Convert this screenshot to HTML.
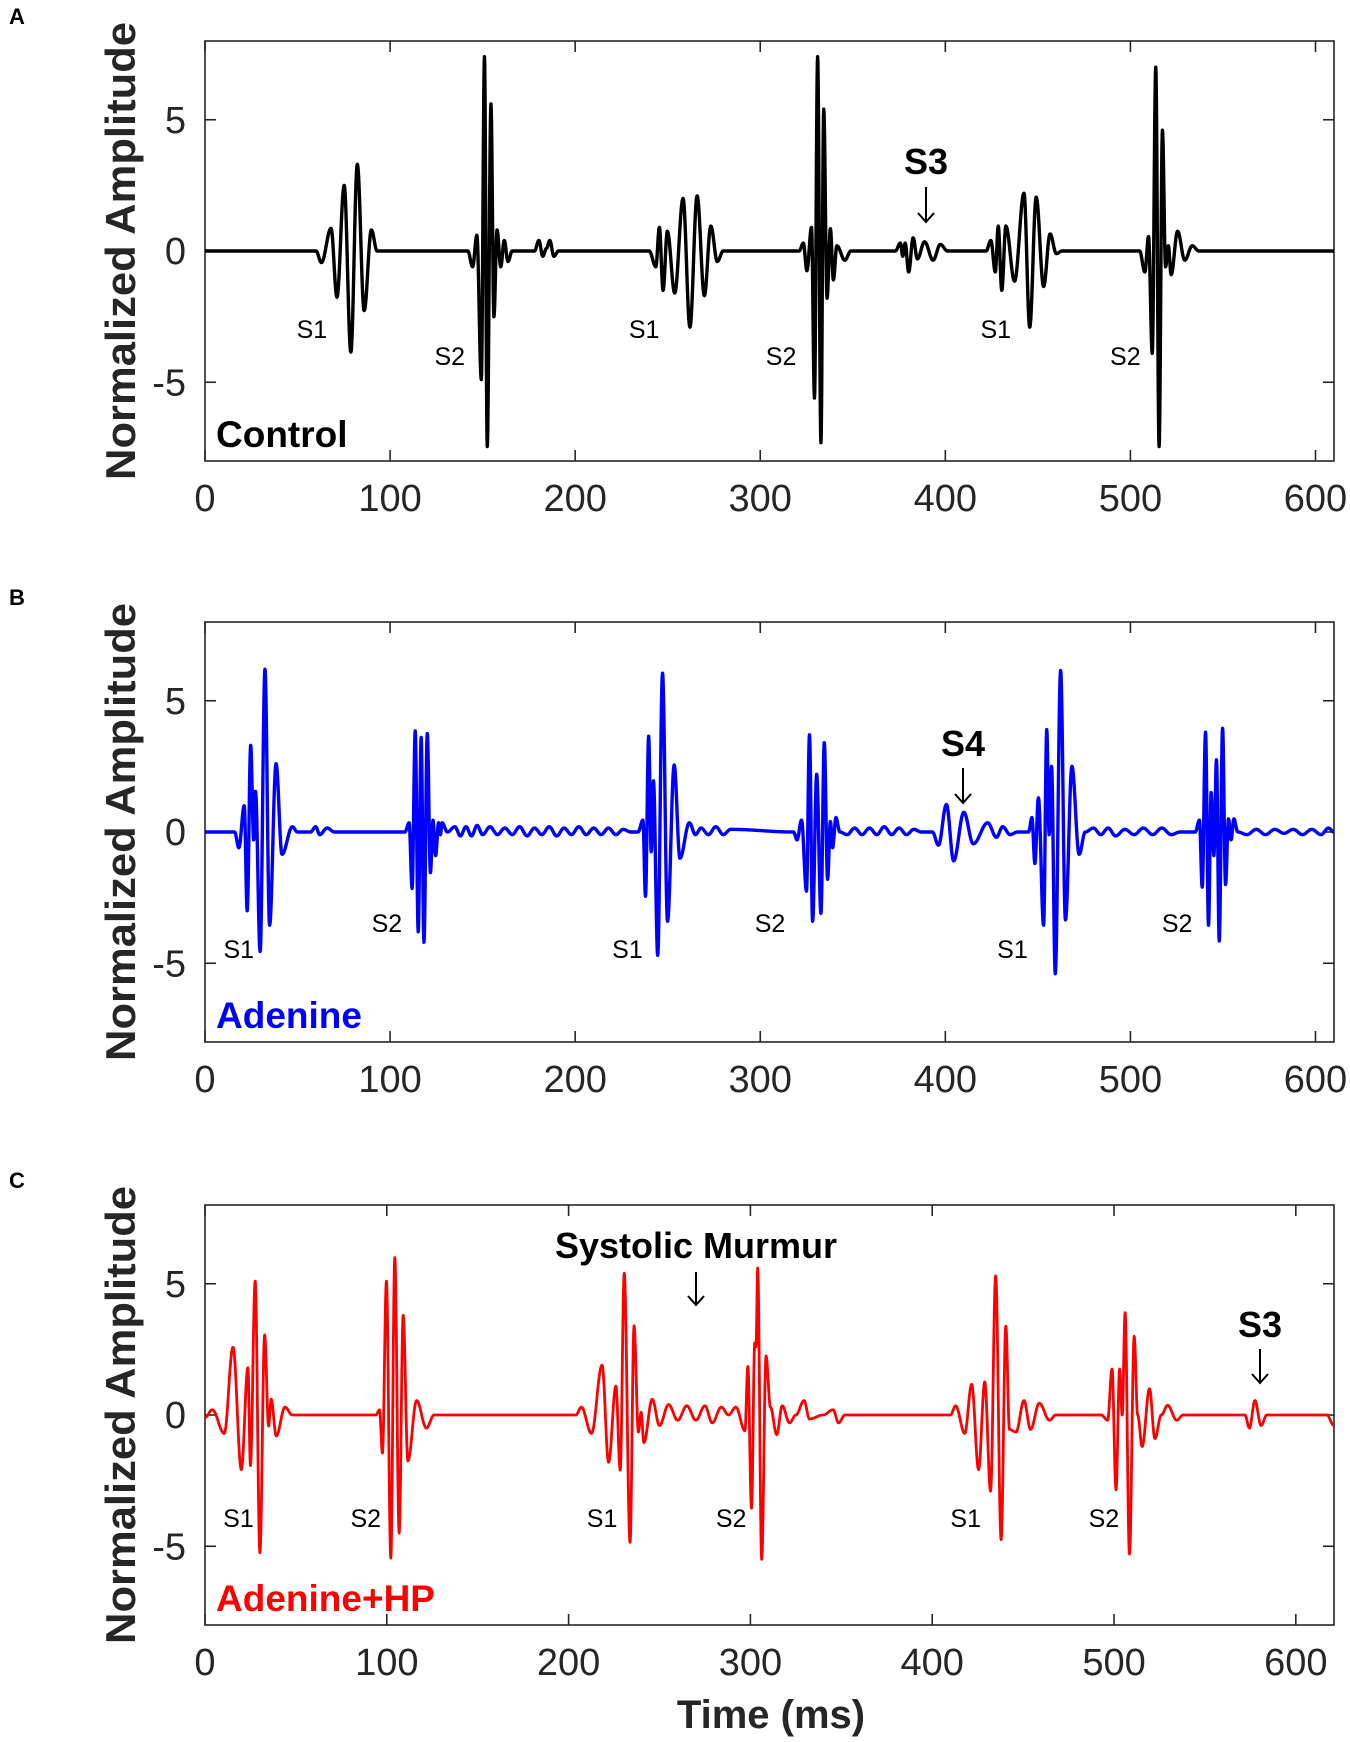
<!DOCTYPE html>
<html><head><meta charset="utf-8"><style>
html,body{margin:0;padding:0;background:#fff;}
svg{display:block;font-family:"Liberation Sans",Arial,sans-serif;}
</style></head><body>
<svg id="fig" width="1350" height="1742" viewBox="0 0 1350 1742" xmlns="http://www.w3.org/2000/svg"></svg>
<script>
// ---- Panel A (Control) extrema: time (ms) / amplitude ----
const tA = [0,60,62.9,68.1,71.3,75.2,78.8,82.3,86,89.9,93,
 142,144.6,146.9,149.3,151,152.5,154.5,156.1,157.8,159.8,161.7,163.7,166,
 178,180.4,182.5,184.5,186.3,188.5,191,
 240,243.6,245.5,247.5,249.8,253.8,258.3,262,265.9,269.8,273.3,276.8,280,
 321,323.3,325.2,327.7,329.3,331,332.8,334.3,336.1,337.9,339.5,341.4,345.7,349,
 373,375.7,377,378.3,380.2,382.6,384.9,388.8,393.4,397.3,401.2,
 422,424.6,427,428.6,430.5,432.7,437.4,442.5,445.6,449.1,453.1,456.6,460,463,
 505,507.8,509.8,511.8,513.7,515.5,517.3,519,520.5,522,525.5,529.4,533.4,537,610];
const vA = [0,0,-0.44,0.86,-1.76,2.5,-3.85,3.3,-2.27,0.8,0,
 0,-0.6,0.6,-4.9,7.4,-7.45,5.6,-2.5,0.8,-0.6,0.4,-0.4,0,
 0,0.4,-0.2,0.1,0.4,-0.2,0,
 0,-0.6,0.9,-1.5,0.75,-1.6,2.0,-2.9,2.1,-1.7,0.95,-0.4,0,
 0,0.3,-0.75,0.9,-5.6,7.4,-7.3,5.4,-1.8,0.85,-1.1,0.2,-0.35,0,
 0,0.3,-0.2,0.3,-0.8,0.5,-0.3,0.35,-0.35,0.25,0,
 0,0.4,-0.8,0.95,-1.5,0.95,-1.15,2.2,-2.9,2.05,-1.35,0.65,-0.1,0,
 0,-0.8,0.55,-3.9,7.0,-7.45,4.6,-0.6,0.2,-0.9,0.75,-0.35,0.2,0,0];
// ---- Panel B (Adenine) ----
const tB = [0,16,18.3,21.2,22.8,24.7,26.3,27.3,29.8,32.4,34.9,38.4,41.6,47.2,50,57,59.8,62,66,70,
 108,110.3,111.9,113.6,115.2,116.8,118.3,120.1,121.8,123.2,124.6,126.2,127.2,128.1,131,
 135,138,141,144,147,150,154,158,162,166,170,174,178,182,186,190,194,198,202,206,210,214,218,222,226,230,
 234,236.6,238,239.7,241.1,242.3,244.6,247.2,249.9,253.5,256.6,261.7,265,268,272,276,280,284,
 318,319.9,322.3,325,326.6,328.3,330.5,332.8,334.6,336.4,337.9,339.1,340.9,343,
 347,351,355,359,363,367,371,375,379,383,387,
 393,396.3,400.6,404.5,410,415.1,422.9,427.6,431,435,439,
 445,446.8,448.4,450.3,453.1,454.8,456.1,457.4,459.4,462.3,464.9,468.4,472.3,475.6,
 480,484,488,492,497,502,507,512,517,522,527,
 535,537.3,538.8,540.6,542.2,543.6,545.1,546.5,548,549.8,551.4,553,554.4,555.9,558,
 563,568,573,578,583,588,593,598,603,607,610];
const vB = [0,0,-0.6,1.0,-3.0,3.3,-0.3,1.55,-4.55,6.2,-3.55,2.6,-0.85,0.2,0,0,0.2,-0.1,0.15,0,
 0,0.35,-2.15,3.85,-3.8,3.6,-4.2,3.75,-1.55,0.45,-0.9,0.35,-0.1,0.35,0,
 0.2,-0.15,0.2,-0.15,0.25,-0.1,0.2,-0.1,0.15,-0.1,0.2,-0.15,0.15,-0.1,0.2,-0.15,0.15,-0.1,0.2,-0.1,0.15,-0.1,0.15,-0.1,0.1,0,
 0,0.45,-2.45,3.65,-0.75,1.95,-4.7,6.05,-3.4,2.55,-1.0,0.35,-0.1,0.15,-0.1,0.2,-0.1,0.1,
 0,-0.3,0.45,-2.25,3.7,-3.4,2.2,-3.1,3.4,-1.8,0.4,-0.6,0.55,0,
 -0.1,0.15,-0.1,0.15,-0.1,0.2,-0.1,0.15,-0.1,0.1,0,
 0,-0.5,1.05,-1.1,0.75,-0.45,0.35,-0.2,0.2,-0.1,0,
 0,0.55,-1.2,1.3,-3.55,3.9,-0.1,2.5,-5.4,6.15,-3.35,2.5,-0.85,0,
 0.15,-0.1,0.15,-0.15,0.1,-0.1,0.15,-0.1,0.15,-0.1,0,
 0,0.45,-2.1,3.8,-3.55,1.5,-0.9,2.75,-4.15,3.95,-2.0,0.5,-0.3,0.5,0,
 -0.1,0.1,-0.1,0.1,-0.05,0.1,-0.1,0.1,-0.1,0.15,0];
// ---- Panel C (Adenine+HP) ----
const tC = [0,4,10.6,15.4,20,23.6,25,27.6,30.2,32.8,35,36.4,39.2,44,48,
 94,96,97.6,99.8,102.2,104.4,106.8,109,111.6,116.4,121.8,126,
 204,207,212.6,218.4,222,226,228.4,230.6,233.8,236,238.4,239.9,241.4,246,250,255,260,265,270,275,279,284,288,292,
 297,298.6,300.6,302.4,303.1,304,306.2,308.6,311,314.5,317.5,321.5,325,329.5,332.5,340,345.5,348.5,352,
 410,412.9,417.9,421.7,425.5,428.9,432.1,434.9,437.9,440.5,442.5,446.1,450.5,454.1,458.9,464.5,468,
 493,496.5,498.9,501.1,503.1,504.5,506.1,508.5,511.1,513,515.5,519.5,522.5,526,529.5,534.5,538,
 572,574.5,577.5,580.9,584,617,621];
const vC = [-0.1,0.2,-0.7,2.58,-2.08,1.8,-1.93,5.1,-5.25,3.05,-0.42,0.6,-0.8,0.3,0,
 0,0.2,-1.45,5.1,-5.45,6.0,-4.5,3.8,-1.75,0.55,-0.5,0,
 0,0.3,-0.7,1.9,-1.8,1.1,-2.1,5.4,-4.85,3.4,-0.65,0.1,-1.05,0.6,-0.4,0.4,-0.2,0.35,-0.2,0.35,-0.3,0.3,0,0.3,
 -0.6,1.85,-3.55,2.75,2.6,5.6,-5.5,2.25,0.3,-0.75,0.35,-0.3,0,0.55,-0.15,0,0.2,-0.3,0,
 0,0.35,-0.7,1.17,-2.08,1.26,-2.9,5.3,-4.75,3.38,-0.55,-0.65,0.55,-0.55,0.45,-0.2,0,
 0,-0.2,1.75,-2.85,1.75,0,3.9,-5.3,3.0,0,-1.2,1.0,-0.9,0,0.37,-0.2,0,
 0,-0.5,0.55,-0.4,0,0,-0.4];
// ---- axes ticks ----
const xTickVals = [0,100,200,300,400,500,600];
const yTickVals = [-5,0,5];
const yTickLabels = ["-5","0","5"];
const xLimits = [610,610,621];

const NS="http://www.w3.org/2000/svg";
const svg=document.getElementById('fig');
function mk(tag,attrs,parent){const e=document.createElementNS(NS,tag);for(const k in attrs)e.setAttribute(k,attrs[k]);(parent||svg).appendChild(e);return e;}

const L=205,R=1334,H=420;
const tops=[41,622,1205];
const panels=[
 {t:tA,v:vA,color:'#000000',w:3.4,name:'control',label:'Control',letter:'A'},
 {t:tB,v:vB,color:'#0000ff',w:3.4,name:'adenine',label:'Adenine',letter:'B'},
 {t:tC,v:vC,color:'#ff0000',w:2.8,name:'adenine-hp',label:'Adenine+HP',letter:'C'}
];
const annotations=[
 [[49.5,'S1',1],[124,'S2',2],[229,'S1',1],[303,'S2',2],[419,'S1',1],[489,'S2',2]],
 [[10,'S1',1],[90,'S2',2],[220,'S1',1],[297,'S2',2],[428,'S1',1],[517,'S2',2]],
 [[10,'S1',1],[80,'S2',2],[210,'S1',1],[281,'S2',2],[410,'S1',1],[486,'S2',2]]
];
const labelBase=[[338,365],[958,932],[1527,1527]];

panels.forEach((p,i)=>{
  const top=tops[i],bot=top+H,xmax=xLimits[i];
  const X=t=>L+(R-L)*t/xmax;
  const Y=v=>top+H/2-v*(H/16);
  const g=mk('g',{});
  
  
  const let_=mk('text',{x:9,y:top-17,'font-size':22,'font-weight':'bold',fill:'#000'},g);
  let_.textContent=p.letter;
  
  
  const fr=mk('rect',{x:L,y:top,width:R-L,height:H,fill:'none',stroke:'#262626','stroke-width':1.6},g);
  
  
  xTickVals.forEach(tv=>{
    const x=X(tv);
    mk('line',{x1:x,y1:bot,x2:x,y2:bot-11,stroke:'#262626','stroke-width':1.6},g);
    mk('line',{x1:x,y1:top,x2:x,y2:top+11,stroke:'#262626','stroke-width':1.6},g);
    const tl=mk('text',{x:x,y:bot+50,'font-size':38,'text-anchor':'middle',fill:'#262626'},g);
    tl.textContent=String(tv);
    
    
  });
  yTickVals.forEach((yv,j)=>{
    const y=Y(yv);
    mk('line',{x1:L,y1:y,x2:L+11,y2:y,stroke:'#262626','stroke-width':1.6},g);
    mk('line',{x1:R,y1:y,x2:R-11,y2:y,stroke:'#262626','stroke-width':1.6},g);
    const tl=mk('text',{x:186,y:y+13,'font-size':38,'text-anchor':'end',fill:'#262626'},g);
    tl.textContent=yTickLabels[j];
    
    
  });
  const cy=top+H/2;
  const yt=mk('text',{x:0,y:0,'font-size':42,'font-weight':'bold','text-anchor':'middle',fill:'#262626',
    transform:`translate(135,${cy}) rotate(-90)`,textLength:458,lengthAdjust:'spacingAndGlyphs'},g);
  yt.textContent='Normalized Amplitude';
  
  
  let d='';
  for(let k=0;k<p.t.length-1;k++){
    const t0=p.t[k],t1=p.t[k+1],v0=p.v[k],v1=p.v[k+1];
    const n=Math.max(2,Math.ceil((t1-t0)/0.15));
    for(let s=(k===0?0:1);s<=n;s++){
      const f=s/n,tt=t0+(t1-t0)*f,vv=v0+(v1-v0)*(1-Math.cos(Math.PI*f))/2;
      d+=(d?'L':'M')+X(tt).toFixed(2)+' '+Y(vv).toFixed(2);
    }
  }
  const cp=mk('clipPath',{id:'clip'+i},g);
  mk('rect',{x:L,y:top,width:R-L,height:H},cp);
  const path=mk('path',{d:d,fill:'none',stroke:p.color,'stroke-width':p.w,'stroke-linejoin':'round','clip-path':`url(#clip${i})`},g);
  
  
  annotations[i].forEach(a=>{
    const tx=mk('text',{x:X(a[0]),y:labelBase[i][a[2]-1],'font-size':25,fill:'#000'},g);
    tx.textContent=a[1];
    
    
  });
  const cl=mk('text',{x:216,y:bot-14,'font-size':37,'font-weight':'bold',fill:p.color},g);
  cl.textContent=p.label;
  
  
});

function arrowNote(txt,tx,ty,ax,ay1,ay2,fs,name){
  const g=mk('g',{});
  
  
  const t=mk('text',{x:tx,y:ty,'font-size':fs,'font-weight':'bold','text-anchor':'middle',fill:'#000'},g);
  t.textContent=txt;
  mk('line',{x1:ax,y1:ay1,x2:ax,y2:ay2,stroke:'#000','stroke-width':2},g);
  mk('path',{d:`M${ax-8} ${ay2-9}L${ax} ${ay2}L${ax+8} ${ay2-9}`,fill:'none',stroke:'#000','stroke-width':2},g);
}
arrowNote('S3',926,174,926,187,222,36,'s3-annotation-control');
arrowNote('S4',963,756,963,768,803,36,'s4-annotation-adenine');
arrowNote('Systolic Murmur',696,1258,696,1272,1305,36,'systolic-murmur-annotation');
arrowNote('S3',1260,1337,1260,1349,1383,36,'s3-annotation-adenine-hp');

const xt=mk('text',{x:771,y:1728,'font-size':40,'font-weight':'bold','text-anchor':'middle',fill:'#262626'});
xt.textContent='Time (ms)';


</script>
</body></html>
